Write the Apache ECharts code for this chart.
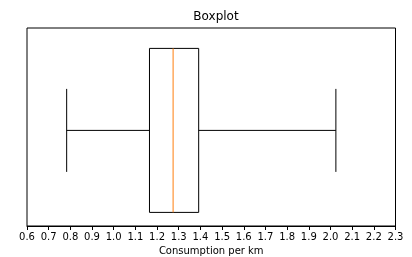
<!DOCTYPE html>
<html>
<head>
<meta charset="utf-8">
<script src="https://cdn.jsdelivr.net/npm/echarts@6/dist/echarts.min.js"></script>
<style>
  html, body { margin: 0; padding: 0; background: #fff; }
  #chart { width: 412px; height: 257px; }
</style>
</head>
<body>
<div id="chart"></div>
<script>
// =====================
// 数据
// =====================

const boxStats = [0.783, 1.165, 1.274, 1.392, 2.025]; // low, q1, median, q3, high
const xTicks = [0.6, 2.3, 0.1]; // min, max, interval

const chart = echarts.init(document.getElementById("chart"));

// =====================
// 箱线图
// =====================

function renderBox(params, api) {
  const pLow = api.coord([api.value(0), 1]);
  const pQ1 = api.coord([api.value(1), 1]);
  const pMed = api.coord([api.value(2), 1]);
  const pQ3 = api.coord([api.value(3), 1]);
  const pHigh = api.coord([api.value(4), 1]);

  const cy = pMed[1] + 3.4;
  const half = 82;
  const capHalf = 41.5;
  const line = { stroke: "#000", lineWidth: 1, fill: null };

  return {
    type: "group",
    children: [
      { type: "line", shape: { x1: pLow[0], y1: cy, x2: pQ1[0], y2: cy }, style: line },
      { type: "line", shape: { x1: pQ3[0], y1: cy, x2: pHigh[0], y2: cy }, style: line },
      { type: "line", shape: { x1: pLow[0], y1: cy - capHalf, x2: pLow[0], y2: cy + capHalf }, style: line },
      { type: "line", shape: { x1: pHigh[0], y1: cy - capHalf, x2: pHigh[0], y2: cy + capHalf }, style: line },
      {
        type: "rect",
        shape: { x: pQ1[0], y: cy - half, width: pQ3[0] - pQ1[0], height: half * 2 },
        style: line,
      },
      {
        type: "line",
        shape: { x1: pMed[0], y1: cy - half, x2: pMed[0], y2: cy + half },
        style: { stroke: "#ff7f0e", lineWidth: 1 },
      },
    ],
  };
}

chart.setOption({
  animation: false,

  title: {
    text: "Boxplot",
    left: 211,
    top: 6,
    textAlign: "center",
    textStyle: {
      fontFamily: "DejaVu Sans",
      fontSize: 12,
      fontWeight: "normal",
      color: "#000",
    },
  },

  grid: {
    left: 27,
    right: 16.5,
    top: 28,
    bottom: 31,
    outerBoundsMode: "none",
    containLabel: false,
    show: true,
    borderColor: "#000",
    borderWidth: 1,
    backgroundColor: "transparent",
  },

  xAxis: {
    type: "value",
    min: xTicks[0],
    max: xTicks[1],
    interval: xTicks[2],
    name: "Consumption per km",
    nameLocation: "middle",
    nameGap: 20,
    nameTextStyle: {
      fontFamily: "DejaVu Sans",
      fontSize: 10,
      color: "#000",
    },
    axisLine: { show: true, lineStyle: { color: "#000", width: 1 } },
    axisTick: { show: true, length: 4, lineStyle: { color: "#000" } },
    axisLabel: {
      margin: 6,
      fontFamily: "DejaVu Sans",
      fontSize: 10,
      color: "#000",
      formatter: (v) => v.toFixed(1),
    },
    splitLine: { show: false },
  },

  yAxis: {
    type: "value",
    min: 0.5,
    max: 1.5,
    show: false,
  },

  series: [
    {
      type: "custom",
      renderItem: renderBox,
      data: [boxStats],
      encode: { x: [0, 1, 2, 3, 4] },
    },
  ],
});
</script>
</body>
</html>
